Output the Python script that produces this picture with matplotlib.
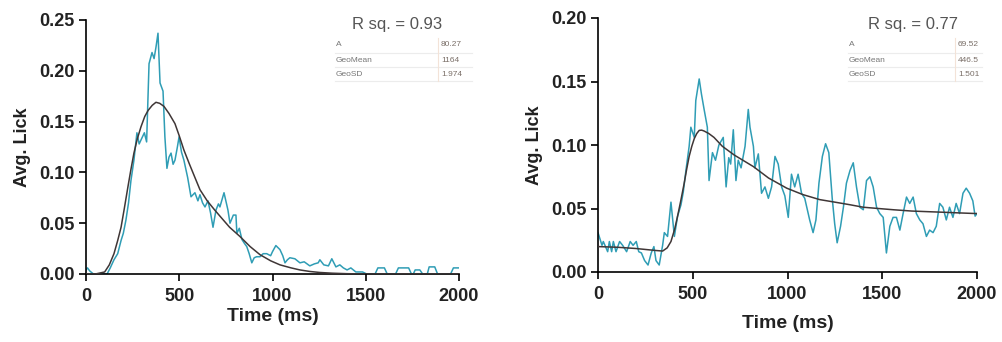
import matplotlib
matplotlib.use("Agg")
import matplotlib.pyplot as plt
from matplotlib.lines import Line2D

plt.rcParams['font.family'] = ['Liberation Sans', 'DejaVu Sans']

# left panel: averaged lick trace (ms, value)
left_t = [0, 8, 20, 40, 80, 113, 130, 150, 170, 188, 200, 214, 228, 241, 257,
          273, 285, 295, 313, 325, 338, 354, 365, 375, 386, 397, 413, 423, 434,
          445, 456, 467, 477, 490, 499, 512, 525, 545, 563, 584, 600, 611, 625,
          638, 654, 668, 681, 697, 710, 718, 740, 761, 772, 790, 804, 809, 822,
          836, 850, 862, 875, 889, 902, 915, 933, 950, 969, 990, 1000, 1018,
          1040, 1055, 1067, 1080, 1093, 1120, 1147, 1170, 1200, 1225, 1245,
          1254, 1275, 1300, 1318, 1340, 1361, 1380, 1400, 1420, 1447, 1483,
          1505, 1550, 1565, 1600, 1615, 1660, 1675, 1730, 1745, 1755, 1765,
          1790, 1805, 1830, 1840, 1870, 1885, 1955, 1970, 2000]
left_v = [0.004, 0.006, 0.003, 0.0, 0.0, 0.0, 0.006, 0.014, 0.02, 0.033, 0.04,
          0.053, 0.07, 0.092, 0.112, 0.139, 0.128, 0.132, 0.139, 0.13, 0.207,
          0.218, 0.212, 0.223, 0.237, 0.188, 0.18, 0.135, 0.104, 0.115, 0.119,
          0.108, 0.112, 0.125, 0.135, 0.12, 0.112, 0.095, 0.076, 0.08, 0.072,
          0.078, 0.07, 0.066, 0.072, 0.06, 0.046, 0.063, 0.069, 0.066, 0.08,
          0.063, 0.05, 0.058, 0.058, 0.04, 0.045, 0.034, 0.03, 0.027, 0.02,
          0.011, 0.016, 0.017, 0.017, 0.02, 0.02, 0.018, 0.022, 0.028, 0.024,
          0.018, 0.011, 0.014, 0.016, 0.015, 0.011, 0.012, 0.008, 0.01, 0.011,
          0.014, 0.009, 0.008, 0.015, 0.007, 0.009, 0.006, 0.004, 0.006, 0.002,
          0.002, 0.0, 0.0, 0.006, 0.006, 0.0, 0.0, 0.006, 0.006, 0.0, 0.0,
          0.004, 0.004, 0.0, 0.0, 0.007, 0.007, 0.0, 0.0, 0.006, 0.006]

# left panel: lognormal fit
left_fit_t = [0, 50, 100, 125, 150, 170, 188, 205, 225, 240, 257, 275, 295,
              315, 333, 355, 375, 395, 418, 445, 477, 500, 525, 555, 584, 611,
              650, 690, 718, 770, 825, 880, 933, 990, 1040, 1100, 1147, 1200,
              1254, 1320, 1400, 1500, 2000]
left_fit_v = [0.0, 0.0, 0.002, 0.009, 0.02, 0.033, 0.046, 0.064, 0.086, 0.102,
              0.119, 0.133, 0.145, 0.155, 0.161, 0.166, 0.169, 0.168, 0.165,
              0.158, 0.148, 0.136, 0.122, 0.108, 0.095, 0.083, 0.072, 0.063,
              0.057, 0.046, 0.037, 0.027, 0.019, 0.013, 0.009, 0.006, 0.004,
              0.0025, 0.0015, 0.0008, 0.0003, 0.0, 0.0]

# right panel: averaged lick trace (ms, value)
right_t = [0, 21, 28, 51, 60, 72, 81, 95, 114, 130, 151, 170, 185, 202, 215,
           229, 246, 264, 281, 295, 306, 323, 341, 350, 367, 385, 403, 420, 438,
           450, 464, 481, 490, 508, 516, 534, 546, 560, 577, 586, 604, 620, 638,
           661, 676, 690, 700, 714, 728, 740, 755, 776, 793, 802, 820, 828, 846,
           863, 881, 899, 916, 934, 951, 969, 986, 1004, 1021, 1038, 1056, 1074,
           1091, 1117, 1135, 1150, 1166, 1184, 1201, 1218, 1236, 1249, 1262,
           1280, 1295, 1311, 1330, 1347, 1364, 1382, 1400, 1417, 1435, 1452,
           1470, 1487, 1505, 1522, 1540, 1557, 1575, 1593, 1610, 1628, 1645,
           1663, 1680, 1698, 1715, 1733, 1750, 1768, 1785, 1803, 1820, 1838,
           1855, 1873, 1890, 1908, 1926, 1943, 1961, 1978, 1990, 2000]
right_v = [0.031, 0.021, 0.024, 0.016, 0.024, 0.016, 0.024, 0.016, 0.024,
           0.021, 0.016, 0.024, 0.021, 0.024, 0.016, 0.015, 0.009, 0.0055, 0.015,
           0.02, 0.009, 0.0055, 0.021, 0.031, 0.028, 0.055, 0.028, 0.044, 0.053,
           0.063, 0.08, 0.099, 0.114, 0.106, 0.135, 0.152, 0.14, 0.128, 0.114,
           0.072, 0.094, 0.088, 0.1, 0.106, 0.067, 0.09, 0.085, 0.112, 0.072,
           0.088, 0.082, 0.099, 0.128, 0.114, 0.099, 0.082, 0.093, 0.062, 0.067,
           0.058, 0.067, 0.091, 0.085, 0.067, 0.06, 0.043, 0.077, 0.067, 0.077,
           0.062, 0.058, 0.041, 0.031, 0.041, 0.07, 0.091, 0.101, 0.094, 0.058,
           0.038, 0.023, 0.036, 0.051, 0.07, 0.08, 0.086, 0.067, 0.051, 0.049,
           0.072, 0.075, 0.067, 0.051, 0.046, 0.043, 0.015, 0.036, 0.043, 0.043,
           0.033, 0.046, 0.059, 0.054, 0.059, 0.046, 0.041, 0.038, 0.028, 0.033,
           0.031, 0.036, 0.054, 0.051, 0.041, 0.051, 0.043, 0.054, 0.046, 0.062,
           0.066, 0.062, 0.056, 0.044, 0.046]

# right panel: fit
right_fit_t = [0, 100, 200, 300, 341, 365, 385, 405, 420, 438, 455, 468, 481,
               495, 508, 521, 534, 547, 560, 585, 612, 656, 720, 820, 900, 996,
               1080, 1170, 1250, 1328, 1400, 1479, 1560, 1655, 1740, 1831, 1910,
               2000]
right_fit_v = [0.02, 0.0195, 0.0185, 0.017, 0.0165, 0.019, 0.024, 0.034, 0.044,
               0.057, 0.07, 0.081, 0.091, 0.099, 0.105, 0.109, 0.1115, 0.1117,
               0.111, 0.109, 0.106, 0.099, 0.092, 0.083, 0.074, 0.066, 0.061,
               0.057, 0.055, 0.053, 0.051, 0.05, 0.049, 0.048, 0.0475, 0.047,
               0.0465, 0.046]

param_names = ['A', 'GeoMean', 'GeoSD']
left_params = ['80.27', '1164', '1.974']
right_params = ['69.52', '446.5', '1.501']
left_r2 = 'R sq. = 0.93'
right_r2 = 'R sq. = 0.77'

trace_col = '#2f9db5'
fit_col = '#3f3636'

fig = plt.figure(figsize=(10.02, 3.42), dpi=100)
W, H = 1002, 342


def px_axes(x0, x1, y_top, y_bot):
    return fig.add_axes([x0 / W, 1 - y_bot / H, (x1 - x0) / W, (y_bot - y_top) / H])


def style(ax, ymax, yticks, xpad):
    ax.set_xlim(0, 2000)
    ax.set_ylim(0, ymax)
    ax.set_xticks([0, 500, 1000, 1500, 2000])
    ax.set_yticks(yticks)
    ax.set_yticklabels([f'{v:.2f}' for v in yticks])
    for s in ['top', 'right']:
        ax.spines[s].set_visible(False)
    for s in ['left', 'bottom']:
        ax.spines[s].set_linewidth(1.2)
    ax.tick_params(width=1.2, length=5, labelsize=13)
    ax.tick_params(axis='x', pad=5)
    ax.tick_params(axis='y', pad=3)
    for lab in ax.get_xticklabels() + ax.get_yticklabels():
        lab.set_fontweight('bold')
        lab.set_color('#222222')
    ax.set_xlabel('Time (ms)', fontsize=14, fontweight='bold', color='#222222', labelpad=xpad)
    ax.set_ylabel('Avg. Lick', fontsize=13, fontweight='bold', color='#222222', labelpad=6)


def table(x0, xdiv, x1, names, vals, r2, r2x):
    fig.text(r2x / W, 1 - 25 / H, r2, fontsize=12, color='#555555', ha='center', va='center')
    ys = [45, 60, 74]
    for name, val, y in zip(names, vals, ys):
        fig.text((x0 + 1) / W, 1 - y / H, name, fontsize=6, color='#777777', va='center')
        fig.text((xdiv + 3) / W, 1 - y / H, val, fontsize=6, color='#7a6f68', va='center')
    for y in [53, 67, 81]:
        fig.add_artist(Line2D([x0 / W, x1 / W], [1 - y / H, 1 - y / H], color='#ececec', lw=0.8))
    fig.add_artist(Line2D([xdiv / W, xdiv / W], [1 - 38 / H, 1 - 81 / H], color='#f3e3d8', lw=0.8))


ax1 = px_axes(86, 459, 20, 274)
ax1.plot(left_t, left_v, color=trace_col, lw=1.1, zorder=2)
ax1.plot(left_fit_t, left_fit_v, color=fit_col, lw=1.1, zorder=3)
style(ax1, 0.25, [0.0, 0.05, 0.10, 0.15, 0.20, 0.25], xpad=2)
table(335, 438, 472, param_names, left_params, left_r2, 397)

ax2 = px_axes(598, 977, 18, 272)
ax2.plot(right_t, right_v, color=trace_col, lw=1.1, zorder=2)
ax2.plot(right_fit_t, right_fit_v, color=fit_col, lw=1.1, zorder=3)
style(ax2, 0.20, [0.0, 0.05, 0.10, 0.15, 0.20], xpad=9)
table(848, 955, 982, param_names, right_params, right_r2, 913)

fig.savefig('out.png', dpi=100)
